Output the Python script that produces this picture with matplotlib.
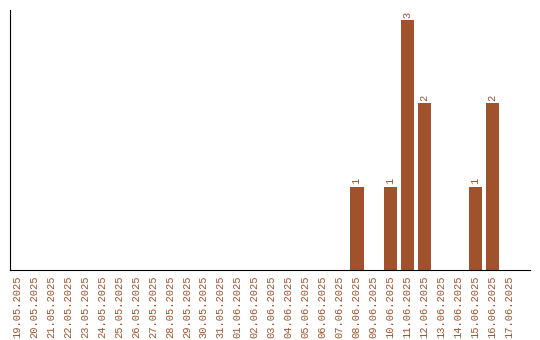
import datetime as dt
import matplotlib
matplotlib.use("Agg")
import matplotlib.pyplot as plt

# dates 19.05.2025 .. 17.06.2025
start = dt.date(2025, 5, 19)
dates = [(start + dt.timedelta(days=i)).strftime("%d.%m.%Y") for i in range(30)]
counts = {"08.06.2025": 1, "10.06.2025": 1, "11.06.2025": 3,
          "12.06.2025": 2, "15.06.2025": 1, "16.06.2025": 2}
values = [counts.get(d, 0) for d in dates]

color = "#A0522D"

fig = plt.figure(figsize=(5.4, 3.4), dpi=100)
ax = fig.add_axes([10 / 540, 70 / 340, 520 / 540, 260 / 340])

x = list(range(len(dates)))
bars = ax.bar(x, values, width=0.8, color=color)
for xi, v in zip(x, values):
    if v > 0:
        ax.text(xi, v + 0.03, str(v), rotation=90, ha="center", va="bottom",
                fontsize=7.5, color=color, family="Liberation Mono")

ax.set_xticks(x)
ax.set_xticklabels(dates, rotation=90, fontsize=7.5, color=color,
                   family="Liberation Mono")
ax.tick_params(axis="x", length=0, pad=4)
ax.set_yticks([])
ax.set_xlim(-0.41, 30.2)
ax.set_ylim(0, 3.12)
ax.spines["top"].set_visible(False)
ax.spines["right"].set_visible(False)

fig.savefig("out.png", dpi=100)
